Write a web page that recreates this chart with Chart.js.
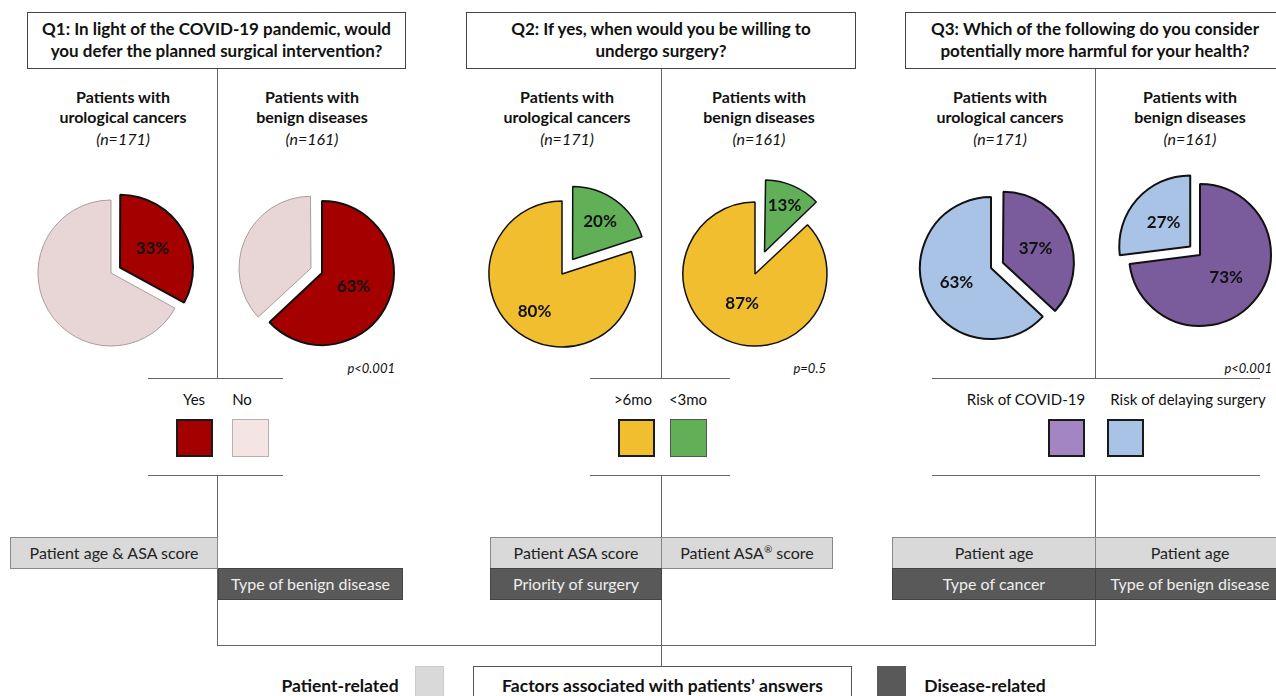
<!DOCTYPE html>
<html>
<head>
<meta charset="utf-8">
<script src="https://cdn.jsdelivr.net/npm/chart.js@4.4.1/dist/chart.umd.min.js"></script>
<style>
  html, body { margin: 0; padding: 0; background: #fff; }
  #page { position: relative; width: 1276px; height: 696px; overflow: hidden; font-family: Lato, "Open Sans", sans-serif; color: #111; }
  .abs { position: absolute; box-sizing: border-box; }
  .title { border: 1px solid #444; background: #fff; font-weight: bold; font-size: 17px; line-height: 22px; text-align: center; padding-top: 5px; white-space: nowrap; }
  .grp { font-weight: bold; font-size: 16px; line-height: 20px; text-align: center; width: 190px; }
  .grp i { font-weight: normal; display: inline-block; margin-top: 2px; }
  .pval { font-style: italic; font-size: 13px; text-align: right; }
  .leg { font-size: 15px; text-align: center; white-space: nowrap; }
  .fac { font-size: 16px; text-align: center; line-height: 30px; border: 1px solid #888; white-space: nowrap; }
  .light { background: #d9d9d9; color: #222; }
  .dark { background: #595959; color: #eee; border-color: #444; }
  .vl { background: #666; width: 1px; }
  .hl { background: #666; height: 1px; }
  .key { font-weight: bold; font-size: 17.5px; text-align: center; line-height: 30px; white-space: nowrap; }
  canvas { position: absolute; }
</style>
</head>
<body>
<div id="page"></div>
<script>
// survey answers, % of patients: [urological cancers, benign diseases]
const groups = ['urological cancers', 'benign diseases'];
const sampleSizes = [171, 161];
const q1Yes = [33, 63];
const q1No = [67, 37];
const q2Early = [20, 13];   // <3mo
const q2Late = [80, 87];    // >6mo
const q3Covid = [37, 73];
const q3Delay = [63, 27];
const pValues = ['p<0.001', 'p=0.5', 'p<0.001'];

const page = document.getElementById('page');

function el(cls, x, y, w, h, html) {
    const d = document.createElement('div');
    d.className = 'abs ' + cls;
    d.style.left = x + 'px';
    d.style.top = y + 'px';
    if (w != null) d.style.width = w + 'px';
    if (h != null) d.style.height = h + 'px';
    if (html) d.innerHTML = html;
    page.appendChild(d);
    return d;
}

// connector lines
el('vl', 217, 68, null, 310);
el('vl', 217, 475, null, 170);
el('vl', 661, 68, null, 310);
el('vl', 661, 475, null, 191);
el('vl', 1095, 68, null, 310);
el('vl', 1095, 475, null, 170);
el('hl', 217, 645, 879);
[[148, 135], [590, 140], [932, 328]].forEach(([x, w]) => {
    el('hl', x, 378, w);
    el('hl', x, 475, w);
});

// question boxes
el('title', 27, 12, 379, 57, 'Q1: In light of the COVID-19 pandemic, would<br>you defer the planned surgical intervention?');
el('title', 466, 12, 390, 57, 'Q2: If yes, when would you be willing to<br>undergo surgery?');
el('title', 905, 12, 380, 57, 'Q3: Which of the following do you consider<br>potentially more harmful for your health?');

// group headers
[[123, 312], [567, 759], [1000, 1190]].forEach(pair => {
    pair.forEach((cx, i) => {
        el('grp', cx - 95, 87, 190, null,
            'Patients with<br>' + groups[i] + '<br><i>(n=' + sampleSizes[i] + ')</i>');
    });
});

// p-values
el('pval', 295, 360, 100, null, pValues[0]);
el('pval', 726, 360, 100, null, pValues[1]);
el('pval', 1172, 360, 100, null, pValues[2]);

// legends
function legend(cx, label, sx, fill, border, bw) {
    el('leg', cx - 80, 390, 160, null, label);
    const s = el('', sx, 419, 37, 38);
    s.style.background = fill;
    s.style.border = bw + 'px solid ' + border;
}
legend(194, 'Yes', 176, '#a50000', '#1a1a1a', 2);
legend(242, 'No', 232, '#f5e4e4', '#b8b0b0', 1);
legend(633, '&gt;6mo', 618, '#f0be2e', '#1a1a1a', 2);
legend(688, '&lt;3mo', 670, '#61b058', '#555', 1);
legend(1026, 'Risk of COVID-19', 1048, '#a285c2', '#1a1a1a', 2);
legend(1188, 'Risk of delaying surgery', 1107, '#a8c3e6', '#1a1a1a', 2);

// associated factors
el('fac light', 10, 537, 208, 32, 'Patient age &amp; ASA score');
el('fac dark', 218, 568, 185, 32, 'Type of benign disease');
el('fac light', 490, 537, 172, 32, 'Patient ASA score');
el('fac light', 661, 537, 172, 32, 'Patient ASA<span style="font-size:10px;position:relative;top:-6px">®</span> score');
el('fac dark', 490, 568, 172, 32, 'Priority of surgery');
el('fac light', 892, 537, 204, 32, 'Patient age');
el('fac light', 1095, 537, 190, 32, 'Patient age');
el('fac dark', 892, 568, 204, 32, 'Type of cancer');
el('fac dark', 1095, 568, 190, 32, 'Type of benign disease');

// bottom key
el('key', 260, 671, 160, 30, 'Patient-related');
el('light', 415, 666, 29, 32).style.border = '1px solid #ccc';
const fb = el('key', 473, 666, 379, 40, 'Factors associated with patients’ answers');
fb.style.border = '1px solid #555';
fb.style.paddingTop = '4px';
el('dark', 877, 666, 29, 32);
el('key', 905, 671, 160, 30, 'Disease-related');

// Chart.js v4 draws an arc shifted by offset/4 and grows its radius by a part of that;
// undo the growth so exploded slices keep the pie's radius
const keepRadius = {
    id: 'keepRadius',
    afterDatasetsUpdate(chart) {
        chart.getDatasetMeta(0).data.forEach(arc => {
            const t = (arc.options.offset || 0) / 4;
            const fix = 1 - Math.sin(Math.min(Math.PI, arc.circumference));
            arc.outerRadius -= t * fix;
        });
    }
};

// percentage labels on slices
const sliceLabels = {
    id: 'sliceLabels',
    afterDatasetsDraw(chart, args, opts) {
        const ctx = chart.ctx;
        const ds = chart.data.datasets[0];
        chart.getDatasetMeta(0).data.forEach((arc, i) => {
            if (!opts.k[i]) return;
            const mid = (arc.startAngle + arc.endAngle) / 2;
            const d = (arc.options.offset || 0) / 4 + opts.r * opts.k[i];
            ctx.save();
            ctx.font = 'bold 17px Lato, sans-serif';
            ctx.fillStyle = '#111';
            ctx.textAlign = 'center';
            ctx.textBaseline = 'middle';
            ctx.fillText(ds.data[i] + '%', arc.x + Math.cos(mid) * d, arc.y + Math.sin(mid) * d);
            ctx.restore();
        });
    }
};

function pie(cx, cy, r, data, colors, borders, widths, shift, k) {
    const c = document.createElement('canvas');
    c.width = 240;
    c.height = 240;
    c.style.left = (cx - 120) + 'px';
    c.style.top = (cy - 120) + 'px';
    page.appendChild(c);
    new Chart(c, {
        type: 'pie',
        data: {
            labels: ['a', 'b'],
            datasets: [{
                data: data,
                backgroundColor: colors,
                borderColor: borders,
                borderWidth: widths,
                offset: shift.map(s => s * 4)
            }]
        },
        options: {
            responsive: false,
            animation: false,
            radius: r,
            events: [],
            plugins: {
                legend: { display: false },
                tooltip: { enabled: false },
                sliceLabels: { k: k, r: r }
            }
        },
        plugins: [keepRadius, sliceLabels]
    });
}

pie(111, 273, 73, [q1Yes[0], q1No[0]], ['#a50000', '#e8d6d6'], ['#111', '#a89c9c'], [2, 1], [10.5, 0], [0.52, 0]);
pie(322, 273, 72, [q1Yes[1], q1No[1]], ['#a50000', '#e8d6d6'], ['#111', '#a89c9c'], [2, 1], [0, 12], [0.48, 0]);
pie(562, 274, 73, [q2Early[0], q2Late[0]], ['#61b058', '#f0be2e'], ['#111', '#111'], [1.5, 1.5], [18, 0], [0.64, 0.64]);
pie(755, 274, 72, [q2Early[1], q2Late[1]], ['#61b058', '#f0be2e'], ['#111', '#111'], [1.5, 1.5], [24, 0], [0.7, 0.45]);
pie(991, 268, 71, [q3Covid[0], q3Delay[0]], ['#7a5c9c', '#a8c3e6'], ['#111', '#111'], [2, 2], [13, 0], [0.5, 0.53]);
pie(1200, 255, 71, [q3Covid[1], q3Delay[1]], ['#7a5c9c', '#a8c3e6'], ['#111', '#111'], [2, 2], [0, 13], [0.49, 0.5]);
</script>
</body>
</html>
